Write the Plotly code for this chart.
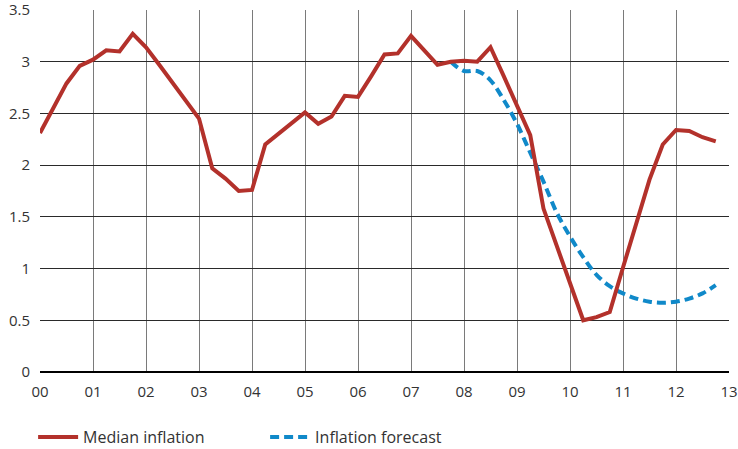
import plotly.graph_objects as go

# Quarterly observations starting 2000 Q1 (index / 4 = years since 2000)
median_inflation = [
    2.31, 2.55, 2.79, 2.96, 3.02, 3.11, 3.10, 3.27,
    3.14, 2.97, 2.80, 2.62, 2.45, 1.97, 1.87, 1.75,
    1.76, 2.20, 2.30, 2.40, 2.51, 2.40, 2.47, 2.67,
    2.66, 2.86, 3.07, 3.08, 3.25, 3.11, 2.97, 3.00,
    3.01, 3.00, 3.14, 2.86, 2.58, 2.29, 1.58, 1.22,
    0.86, 0.50, 0.53, 0.58, 1.01, 1.43, 1.86, 2.20,
    2.34, 2.33, 2.27, 2.23,
]
forecast_start_quarter = 31  # 2007 Q4
inflation_forecast = [
    3.00, 2.91, 2.91, 2.82, 2.63, 2.40, 2.12, 1.84,
    1.54, 1.31, 1.11, 0.94, 0.83, 0.76, 0.71, 0.68,
    0.67, 0.68, 0.71, 0.76, 0.84,
]
tick_labels = ["00", "01", "02", "03", "04", "05", "06", "07",
               "08", "09", "10", "11", "12", "13"]
y_ticks = [0, 0.5, 1, 1.5, 2, 2.5, 3, 3.5]
y_tick_labels = ["0", "0.5", "1", "1.5", "2", "2.5", "3", "3.5"]

x_median = [i / 4 for i in range(len(median_inflation))]
x_fc = [(forecast_start_quarter + i) / 4 for i in range(len(inflation_forecast))]

RED = "#b3312b"
BLUE = "#1089c9"
FONT = "Open Sans"

fig = go.Figure()
fig.add_trace(go.Scatter(
    x=x_fc, y=inflation_forecast, mode="lines", name="Inflation forecast",
    line=dict(color=BLUE, width=4, dash="9px,5px", shape="spline"),
))
fig.add_trace(go.Scatter(
    x=x_median, y=median_inflation, mode="lines", name="Median inflation",
    line=dict(color=RED, width=4),
))

fig.update_layout(
    width=738, height=449,
    margin=dict(l=40, r=9, t=10, b=77, autoexpand=False),
    paper_bgcolor="white", plot_bgcolor="white",
    font=dict(family=FONT, size=15, color="#333333"),
    showlegend=True,
    legend=dict(
        orientation="h", x=-0.01, xanchor="left", y=-0.18, yanchor="middle",
        traceorder="reversed", entrywidth=177, entrywidthmode="pixels",
        itemwidth=40,
        font=dict(family=FONT, size=16, color="#333333"),
        bgcolor="rgba(0,0,0,0)",
    ),
    xaxis=dict(
        range=[0, 13], tickvals=list(range(14)), ticktext=tick_labels,
        showgrid=True, gridcolor="#7a7a7a", gridwidth=1,
        zeroline=False, showline=False, ticks="", automargin=False,
        tickfont=dict(size=15), ticklabelstandoff=9,
        ticklabeloverflow="allow",
    ),
    yaxis=dict(
        range=[0, 3.5], tickvals=y_ticks, ticktext=y_tick_labels,
        showgrid=True, gridcolor="#2a2a2a", gridwidth=1,
        zeroline=True, zerolinecolor="#000000", zerolinewidth=1.5,
        showline=False, ticks="", automargin=False,
        tickfont=dict(size=15), ticklabelstandoff=9,
        ticklabeloverflow="allow",
    ),
)

fig.write_html(
    "out.html",
    config={"displayModeBar": False},
    post_script="document.body.style.margin='0';document.body.style.overflow='hidden';",
)
